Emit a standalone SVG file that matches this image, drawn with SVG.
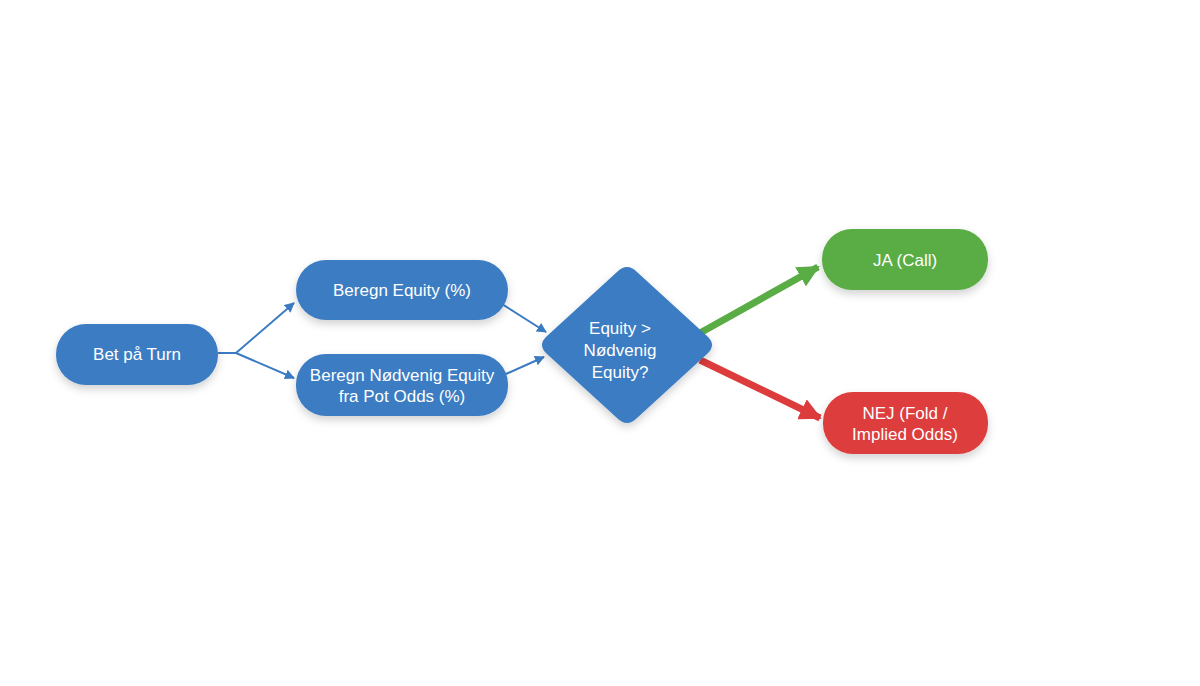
<svg xmlns="http://www.w3.org/2000/svg" width="1200" height="686" viewBox="0 0 1200 686">
<style>
.t{font-family:"Liberation Sans",Arial,sans-serif;font-size:17px;fill:#fff;text-anchor:middle}
.b{fill:#3b7bc2}
.thin{stroke:#3b7bc2;stroke-width:2;fill:none}
</style>
<defs>
<filter id="sh" x="-20%" y="-20%" width="140%" height="160%"><feDropShadow dx="0" dy="4" stdDeviation="4" flood-color="#000" flood-opacity="0.18"/></filter>
<marker id="ab" markerWidth="10" markerHeight="10" refX="9" refY="5" orient="auto" markerUnits="userSpaceOnUse"><path d="M0,0 L10,5 L0,10 z" fill="#3b7bc2"/></marker>
<marker id="ag" markerWidth="22" markerHeight="22" refX="20" refY="11" orient="auto" markerUnits="userSpaceOnUse"><path d="M0,0 L22,11 L0,22 z" fill="#5aac44"/></marker>
<marker id="ar" markerWidth="22" markerHeight="22" refX="20" refY="11" orient="auto" markerUnits="userSpaceOnUse"><path d="M0,0 L22,11 L0,22 z" fill="#dd3c3c"/></marker>
</defs>
<rect width="1200" height="686" fill="#fff"/>
<g id="connectors">
<path class="thin" d="M218,353 L236,353 L294,303" marker-end="url(#ab)"/>
<path class="thin" d="M236,353 L294,378" marker-end="url(#ab)"/>
<path class="thin" d="M502,304 L546,332" marker-end="url(#ab)"/>
<path class="thin" d="M506,374 L544,357" marker-end="url(#ab)"/>
<path d="M700,333 L818,267" stroke="#5aac44" stroke-width="7" fill="none" marker-end="url(#ag)"/>
<path d="M700,360 L820,418" stroke="#dd3c3c" stroke-width="7" fill="none" marker-end="url(#ar)"/>
</g>
<g id="n1"><rect class="b" x="56" y="324" width="162" height="61" rx="30" filter="url(#sh)"/><text class="t" x="137" y="360">Bet på Turn</text></g>
<g id="n2"><rect class="b" x="296" y="260" width="212" height="60" rx="30" filter="url(#sh)"/><text class="t" x="402" y="296">Beregn Equity (%)</text></g>
<g id="n3"><rect class="b" x="296" y="354" width="212" height="62" rx="30" filter="url(#sh)"/><text class="t" x="402" y="381">Beregn Nødvenig Equity</text><text class="t" x="402" y="402">fra Pot Odds (%)</text></g>
<g id="n4"><path class="b" d="M617,272 Q627,262 637,272 L707,336 Q717,345 707,354 L637,418 Q627,428 617,418 L547,354 Q537,345 547,336 Z" filter="url(#sh)"/><text class="t" x="620" y="334">Equity &gt;</text><text class="t" x="620" y="356">Nødvenig</text><text class="t" x="620" y="378">Equity?</text></g>
<g id="n5"><rect x="822" y="229" width="166" height="61" rx="30" fill="#5aac44" filter="url(#sh)"/><text class="t" x="905" y="266">JA (Call)</text></g>
<g id="n6"><rect x="823" y="392" width="165" height="62" rx="30" fill="#dd3c3c" filter="url(#sh)"/><text class="t" x="905" y="419">NEJ (Fold /</text><text class="t" x="905" y="440">Implied Odds)</text></g>
</svg>
